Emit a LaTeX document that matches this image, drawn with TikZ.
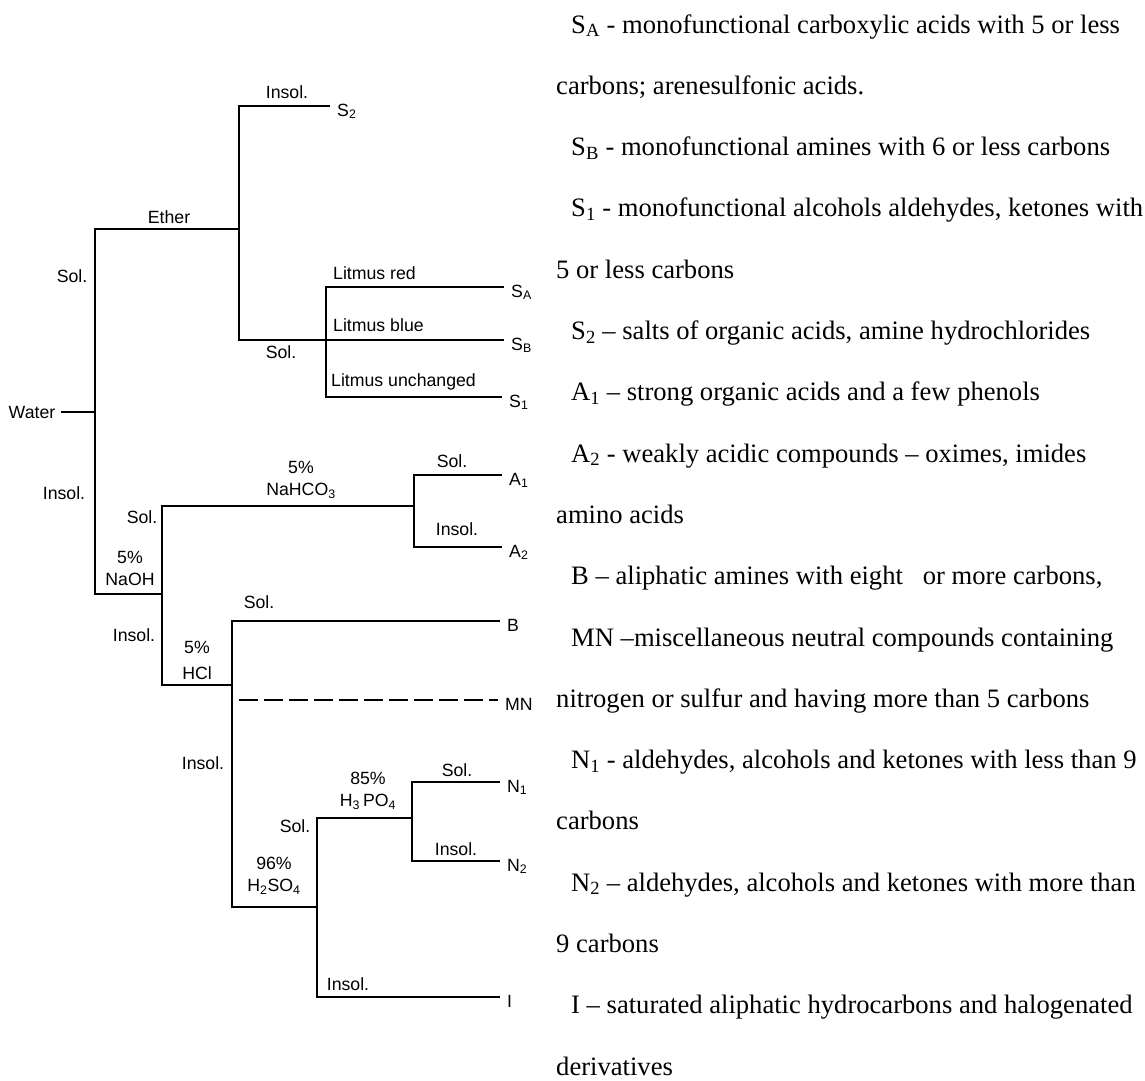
\documentclass[tikz,border=0pt]{standalone}
\usepackage{fontspec}
\setmainfont{Liberation Serif}
\newfontfamily\treefont{Liberation Sans}
\begin{document}
\begin{tikzpicture}[
x=1pt,
y=-1pt,
tree/.style={
  line width=2.2pt,
  line join=miter
  },
tag/.style={
  inner sep=0pt,
  align=center,
  font=\treefont\fontsize{17.7}{22}\selectfont
  },
leaf/.style={
  tag,
  anchor=base west,
  xshift=7pt,
  yshift=-10pt
  },
note/.style={
  inner sep=0pt,
  anchor=base west,
  font=\fontsize{26.6}{32}\selectfont
  }
]
\useasboundingbox (0,0) rectangle (1145,1080);

% branch points and ends of the branches
\foreach \n/\x/\y in {root/95/412, jW1/95/229, jW2/95/594, jE/239/229,
  jE1/239/106, jE2/239/340, jL1/326/287, jL3/326/397, jN/162/594,
  jN1/162/506, jN2/162/685, jC/414/506, jC1/414/475, jC2/414/547,
  jH/232/685, jH1/232/621, jH2/232/907, jS/317/907, jS1/317/818,
  jS2/317/997, jP/412/818, jP1/412/782, jP2/412/861, dMN/239/700,
  tS2/330/106, tSA/504/287, tSB/504/340, tS1/502/397, tA1/502/475,
  tA2/502/547, tB/500/621, tMN/498/700, tN1/500/782, tN2/500/861,
  tI/500/997}
  \coordinate (\n) at (\x,\y);

\node[tag, inner xsep=6pt] (water) at (32,412) {Water};

% classes at the ends
\node[leaf] (S2) at (tS2) {S\textsubscript{2}};
\node[leaf] (SA) at (tSA) {S\textsubscript{A}};
\node[leaf] (SB) at (tSB) {S\textsubscript{B}};
\node[leaf] (S1) at (tS1) {S\textsubscript{1}};
\node[leaf] (A1) at (tA1) {A\textsubscript{1}};
\node[leaf] (A2) at (tA2) {A\textsubscript{2}};
\node[leaf] (B) at (tB) {B};
\node[leaf] (MN) at (tMN) {MN};
\node[leaf] (N1) at (tN1) {N\textsubscript{1}};
\node[leaf] (N2) at (tN2) {N\textsubscript{2}};
\node[leaf] (I) at (tI) {I};

% solvents and results
\node[tag] (insS2) at (287,92) {Insol.};
\node[tag] (ether) at (169,217) {Ether};
\node[tag] (solW) at (72,276) {Sol.};
\node[tag, anchor=west] (lred) at (333,273) {Litmus red};
\node[tag, anchor=west] (lblue) at (333,325) {Litmus blue};
\node[tag, anchor=west] (lunch) at (331,382) {Litmus unchanged};
\node[tag] (solE) at (281,352) {Sol.};
\node[tag] (insW) at (64,493) {Insol.};
\node[tag] (naoh) at (130,568) {5\%\\NaOH};
\node[tag] (solN) at (142,517) {Sol.};
\node[tag] (nahco) at (301,480) {5\%\\NaHCO\textsubscript{3}};
\node[tag] (solA) at (452,461) {Sol.};
\node[tag] (insA) at (457,529) {Insol.};
\node[tag] (insN) at (134,635) {Insol.};
\node[tag] (hcl) at (197,660) {5\%\\[4pt]HCl};
\node[tag] (solB) at (259,602) {Sol.};
\node[tag] (insH) at (203,763) {Insol.};
\node[tag] (hso) at (274,876) {96\%\\H\textsubscript{2}SO\textsubscript{4}};
\node[tag] (solS) at (295,826) {Sol.};
\node[tag] (hpo) at (368,791) {85\%\\H\textsubscript{3}\,PO\textsubscript{4}};
\node[tag] (solP) at (457,770) {Sol.};
\node[tag] (insP) at (456,849) {Insol.};
\node[tag] (insI) at (348,984) {Insol.};

\draw[tree] (water.east) -- (root);
\foreach \a/\b/\c/\d in {jE/jW1/jW2/jN, tS2/jE1/jE2/tSB, tSA/jL1/jL3/tS1,
  jC/jN1/jN2/jH, tA1/jC1/jC2/tA2, tB/jH1/jH2/jS, jP/jS1/jS2/tI,
  tN1/jP1/jP2/tN2}
  \draw[tree] (\a) -- (\b) -- (\c) -- (\d);
\draw[tree, dash pattern=on 19pt off 6pt] (dMN) -- (tMN);

% key to the classes
\foreach \x/\txt [count=\i from 0] in {
  571/{S\textsubscript{A} - monofunctional carboxylic acids with 5 or less},
  556/{carbons; arenesulfonic acids.},
  571/{S\textsubscript{B} - monofunctional amines with 6 or less carbons},
  571/{S\textsubscript{1} - monofunctional alcohols aldehydes, ketones with},
  556/{5 or less carbons},
  571/{S\textsubscript{2} -- salts of organic acids, amine hydrochlorides},
  571/{A\textsubscript{1} -- strong organic acids and a few phenols},
  571/{A\textsubscript{2} - weakly acidic compounds -- oximes, imides},
  556/{amino acids},
  571/{B -- aliphatic amines with eight\ \ \ or more carbons,},
  571/{MN --miscellaneous neutral compounds containing},
  556/{nitrogen or sulfur and having more than 5 carbons},
  571/{N\textsubscript{1} - aldehydes, alcohols and ketones with less than 9},
  556/{carbons},
  571/{N\textsubscript{2} -- aldehydes, alcohols and ketones with more than},
  556/{9 carbons},
  571/{I -- saturated aliphatic hydrocarbons and halogenated},
  556/{derivatives}}
  \node[note] (note\i) at (\x,{33+61.3*\i}) {\txt};
\end{tikzpicture}
\end{document}
